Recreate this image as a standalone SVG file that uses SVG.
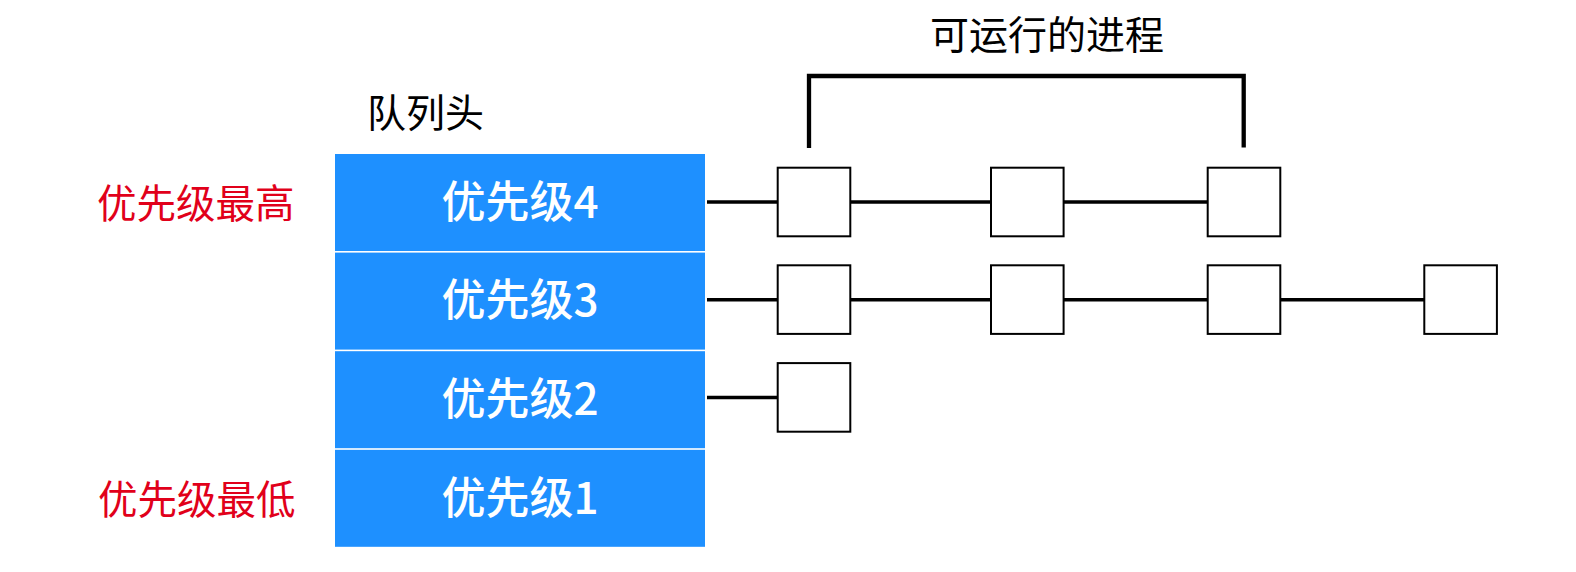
<svg xmlns="http://www.w3.org/2000/svg" width="1576" height="572" viewBox="0 0 1576 572">
<style>
.bar{fill:#1e90ff}
.bt{font-family:"Noto Sans CJK SC","Noto Sans",sans-serif;font-size:44px;font-weight:500;fill:#ffffff;text-anchor:middle}
.red{font-family:"Noto Sans CJK SC","Noto Sans",sans-serif;font-size:39.5px;fill:#e1001a}
.lbl{font-family:"Noto Sans CJK SC","Noto Sans",sans-serif;font-size:39px;fill:#000000}
.box{fill:#ffffff;stroke:#000000;stroke-width:2}
.ln{stroke:#000000;stroke-width:3.5;fill:none}
</style>
<rect width="1576" height="572" fill="#ffffff"/>
<text class="lbl" x="1047" y="49" text-anchor="middle">可运行的进程</text>
<text class="lbl" x="367" y="127">队列头</text>
<text class="red" x="97" y="218">优先级最高</text>
<text class="red" x="98" y="514">优先级最低</text>
<g id="connectors">
<line class="ln" x1="707" y1="202" x2="1207" y2="202"/>
<line class="ln" x1="707" y1="299.7" x2="1424" y2="299.7"/>
<line class="ln" x1="707" y1="397.5" x2="777" y2="397.5"/>
<path d="M809 148 V76 H1243.7 V147.5" fill="none" stroke="#000000" stroke-width="4.3"/>
</g>
<g id="q4"><rect class="bar" x="335" y="154" width="370" height="97"/><text class="bt" x="520" y="218">优先级4</text></g>
<g id="q3"><rect class="bar" x="335" y="252.6" width="370" height="97"/><text class="bt" x="520" y="316.4">优先级3</text></g>
<g id="q2"><rect class="bar" x="335" y="351.2" width="370" height="97"/><text class="bt" x="520" y="415">优先级2</text></g>
<g id="q1"><rect class="bar" x="335" y="449.8" width="370" height="97"/><text class="bt" x="520" y="513.6">优先级1</text></g>
<g id="p4a"><rect class="box" x="777.7" y="167.7" width="72.6" height="68.6"/></g>
<g id="p4b"><rect class="box" x="991" y="167.7" width="72.6" height="68.6"/></g>
<g id="p4c"><rect class="box" x="1207.7" y="167.7" width="72.6" height="68.6"/></g>
<g id="p3a"><rect class="box" x="777.7" y="265.3" width="72.6" height="68.6"/></g>
<g id="p3b"><rect class="box" x="991" y="265.3" width="72.6" height="68.6"/></g>
<g id="p3c"><rect class="box" x="1207.7" y="265.3" width="72.6" height="68.6"/></g>
<g id="p3d"><rect class="box" x="1424.3" y="265.3" width="72.6" height="68.6"/></g>
<g id="p2a"><rect class="box" x="777.7" y="363.1" width="72.6" height="68.6"/></g>
</svg>
